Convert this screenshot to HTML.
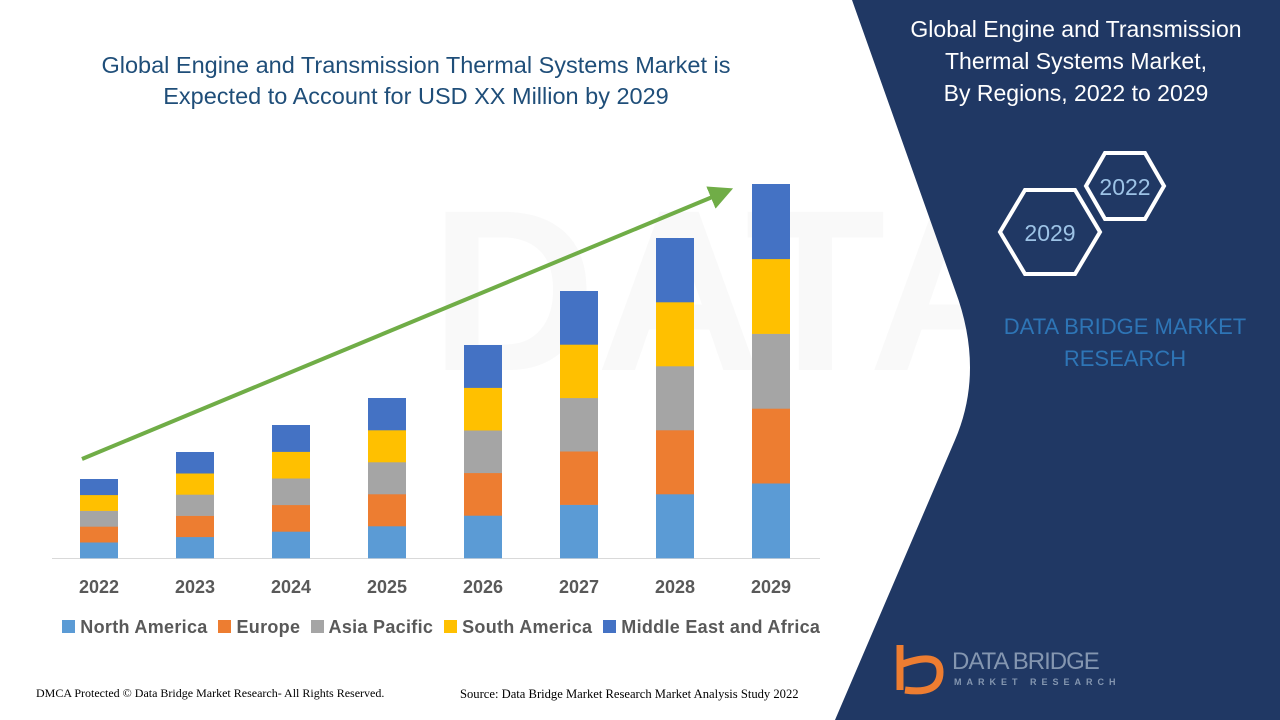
<!DOCTYPE html>
<html><head><meta charset="utf-8"><style>
body{margin:0;width:1280px;height:720px;overflow:hidden;background:#fff;font-family:"Liberation Sans",sans-serif;position:relative}
.t{position:absolute;text-align:center}
</style></head><body>
<svg width="1280" height="720" style="position:absolute;left:0;top:0">
<defs><marker id="ah" markerWidth="6" markerHeight="6" refX="3" refY="3" orient="auto" markerUnits="strokeWidth"><path d="M0,0 L6,3 L0,6 z" fill="#70ad47"/></marker></defs>
<text x="430" y="370" font-size="230" fill="#f9f9f9" font-family="Liberation Sans" font-weight="bold">DATABRIDGE</text>
<path d="M852,0 L1280,0 L1280,720 L835,720 L955,440 Q985,370 955,290 Z" fill="#203864"/>
<line x1="52" y1="558.5" x2="820" y2="558.5" stroke="#d9d9d9" stroke-width="1"/>
<g id="bars"></g>
<line x1="82" y1="459" x2="722" y2="193" stroke="#70ad47" stroke-width="4" marker-end="url(#ah)"/>
<polygon points="1000,232 1025,190 1075,190 1100,232 1075,274 1025,274" fill="none" stroke="#fff" stroke-width="4"/>
<polygon points="1086,186 1105,153 1145,153 1164,186 1145,219 1105,219" fill="none" stroke="#fff" stroke-width="4"/>
<text x="1050" y="241" font-size="23" fill="#9dc3e6" text-anchor="middle">2029</text>
<text x="1125" y="195" font-size="23" fill="#9dc3e6" text-anchor="middle">2022</text>
<path d="M900,645 L900,690 M900,665 Q940,650 940,672 Q940,695 905,690" fill="none" stroke="#ed7d31" stroke-width="7"/>
</svg>
<script>
var tops=[479,452,425,398,345,291,238,184],cols=['#5b9bd5','#ed7d31','#a5a5a5','#ffc000','#4472c4'];
var s='';tops.forEach(function(t,i){var cx=99+96*i,h=(558-t)/5;for(var k=0;k<5;k++){s+='<rect x="'+(cx-19)+'" y="'+(558-h*(k+1))+'" width="38" height="'+(h+0.3)+'" fill="'+cols[k]+'"/>';}
s+='<text x="'+cx+'" y="593" font-size="18" font-weight="bold" fill="#595959" text-anchor="middle" font-family="Liberation Sans">'+(2022+i)+'</text>';});
document.getElementById('bars').innerHTML=s;
</script>
<div class="t" style="left:56px;top:50px;width:720px;font-size:23.5px;color:#1f4e79;line-height:31px">Global Engine and Transmission Thermal Systems Market is<br>Expected to Account for USD XX Million by 2029</div>
<div class="t" style="left:876px;top:13px;width:400px;font-size:23px;color:#fff;line-height:32px">Global Engine and Transmission<br>Thermal Systems Market,<br>By Regions, 2022 to 2029</div>
<div class="t" style="left:975px;top:311px;width:300px;font-size:22px;color:#2e75b6;line-height:32px">DATA BRIDGE MARKET<br>RESEARCH</div>
<div style="position:absolute;left:62px;top:617px;font-size:18px;font-weight:bold;color:#595959;white-space:nowrap;letter-spacing:0.3px">
<span style="display:inline-block;width:13px;height:13px;background:#5b9bd5"></span> North America&nbsp;
<span style="display:inline-block;width:13px;height:13px;background:#ed7d31"></span> Europe&nbsp;
<span style="display:inline-block;width:13px;height:13px;background:#a5a5a5"></span> Asia Pacific&nbsp;
<span style="display:inline-block;width:13px;height:13px;background:#ffc000"></span> South America&nbsp;
<span style="display:inline-block;width:13px;height:13px;background:#4472c4"></span> Middle East and Africa</div>
<div style="position:absolute;left:36px;top:686px;font-size:12px;font-family:'Liberation Serif',serif;color:#000">DMCA Protected © Data Bridge Market Research- All Rights Reserved.</div>
<div style="position:absolute;left:460px;top:687px;font-size:12.6px;font-family:'Liberation Serif',serif;color:#000">Source: Data Bridge Market Research Market Analysis Study 2022</div>
<div style="position:absolute;left:952px;top:648px;font-size:24px;color:#8496b0;letter-spacing:-1px">DATA BRIDGE</div>
<div style="position:absolute;left:954px;top:677px;font-size:9px;color:#8496b0;letter-spacing:5px;font-weight:bold">MARKET RESEARCH</div>
</body></html>
